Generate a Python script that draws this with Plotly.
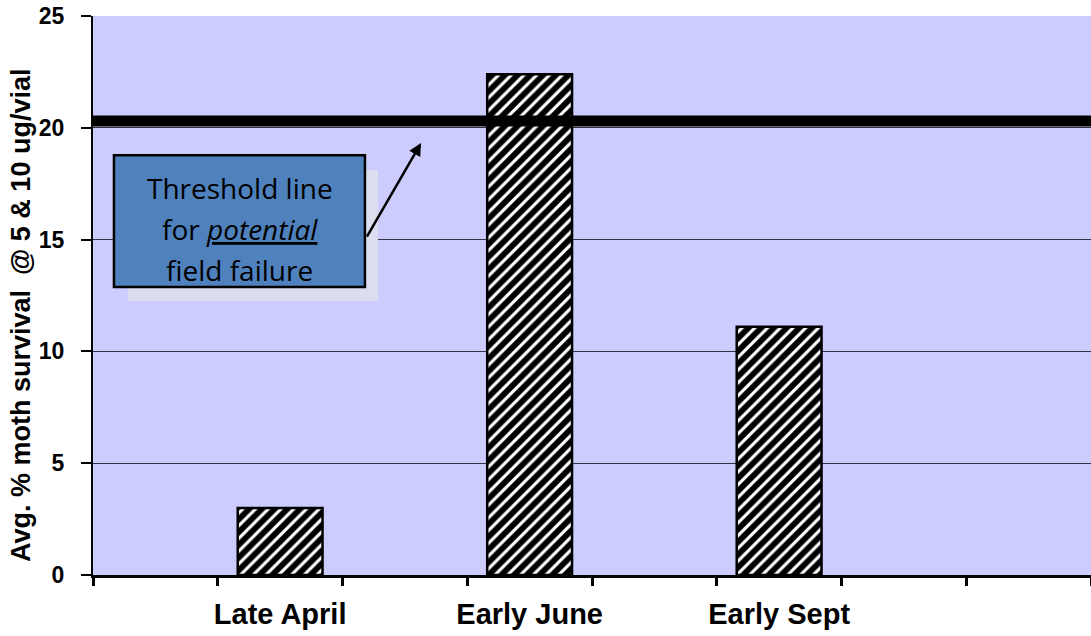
import plotly.graph_objects as go

# Sampling periods (blank slots keep the spacing of the category axis)
periods = [" ", "Late April", "  ", "Early June", "   ", "Early Sept", "    ", "     "]
survival = [None, 3.0, None, 22.4, None, 11.1, None, None]
threshold = 20.3

y_ticks = [0, 5, 10, 15, 20, 25]
y_title = "Avg. % moth survival  @ 5 & 10 ug/vial"

bg = "#CCCCFF"
heavy = "Liberation Sans, Arial"

fig = go.Figure()
fig.add_trace(go.Bar(
    x=periods,
    y=survival,
    width=0.68,
    marker=dict(
        color="white",
        line=dict(color="black", width=2.5),
        pattern=dict(shape="/", fgcolor="black", bgcolor="white", fgopacity=1,
                     size=9, solidity=0.65),
    ),
    showlegend=False,
    hoverinfo="skip",
))

# Threshold line across the whole plot area
fig.add_shape(type="line", xref="paper", x0=0, x1=1, yref="y", y0=threshold, y1=threshold,
              line=dict(color="black", width=11), layer="above")

# Callout: pale offset backdrop, blue box, then its text
fig.add_shape(type="rect", xref="paper", yref="paper", x0=0.035, x1=0.2856, y0=0.490, y1=0.7245,
              fillcolor="#DDDDF0", line=dict(width=0), layer="above")
fig.add_shape(type="rect", xref="paper", yref="paper", x0=0.021, x1=0.2725, y0=0.515, y1=0.751,
              fillcolor="#4F81BD", line=dict(color="black", width=2.5), layer="above")

callout_lines = ["Threshold line", "for <i><u>potential</u></i>", "field failure"]
callout_y = [0.693, 0.619, 0.546]
for txt, yy in zip(callout_lines, callout_y):
    fig.add_annotation(text=txt, xref="paper", yref="paper", x=0.1468, y=yy,
                       xanchor="center", yanchor="middle",
                       showarrow=False, font=dict(family="Open Sans", size=28, color="black"))

# Arrow pointing from the callout up to the threshold line
fig.add_annotation(xref="paper", yref="paper", x=0.3287, y=0.7728, axref="pixel", ayref="pixel",
                   ax=-55, ay=95, text="", showarrow=True, arrowhead=2, arrowsize=1,
                   arrowwidth=2.5, arrowcolor="black")

# Vertical axis title
fig.add_annotation(text=f"<b>{y_title}</b>", xref="paper", yref="paper", x=-0.0721, y=0.4633,
                   xanchor="center", yanchor="middle", textangle=-90, showarrow=False,
                   font=dict(family=heavy, size=27, color="black"))

fig.update_layout(
    width=1091, height=636,
    margin=dict(l=93, r=0, t=16, b=61, autoexpand=False),
    paper_bgcolor="white",
    plot_bgcolor=bg,
    xaxis=dict(
        type="category",
        categoryorder="array",
        categoryarray=periods,
        range=[-0.5, 7.5],
        tickson="boundaries",
        ticks="outside", ticklen=8, tickwidth=3, tickcolor="black",
        showline=True, linecolor="black", linewidth=2.5,
        showgrid=False,
        tickangle=0,
        automargin=False,
        tickfont=dict(family=heavy, size=29, color="black", weight="bold"),
        ticklabelstandoff=11,
        fixedrange=True,
    ),
    yaxis=dict(
        range=[0, 25],
        tickvals=y_ticks,
        ticks="outside", ticklen=10, tickwidth=1.5, tickcolor="black",
        showline=True, linecolor="black", linewidth=2,
        showgrid=True, gridcolor="#333344", gridwidth=1,
        zeroline=False,
        automargin=False,
        tickfont=dict(family=heavy, size=23, color="black", weight="bold"),
        ticklabelstandoff=12,
        fixedrange=True,
    ),
)

fig.write_html("out.html")
